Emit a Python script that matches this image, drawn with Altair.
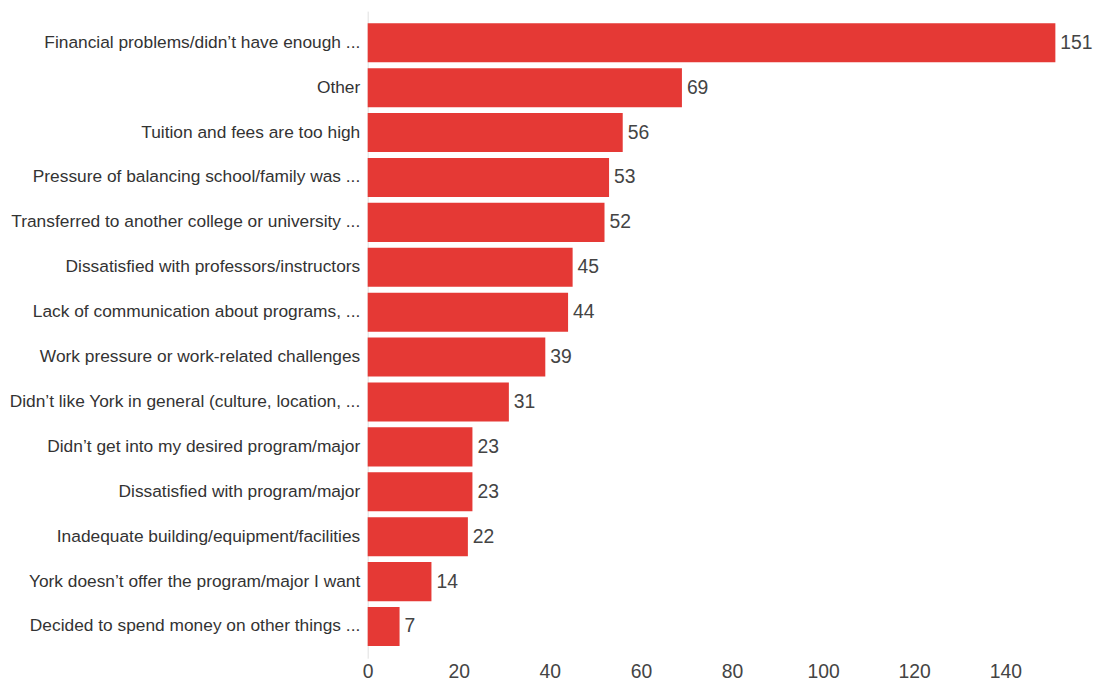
import altair as alt
import pandas as pd

categories = [
    "Financial problems/didn’t have enough ...",
    "Other",
    "Tuition and fees are too high",
    "Pressure of balancing school/family was ...",
    "Transferred to another college or university ...",
    "Dissatisfied with professors/instructors",
    "Lack of communication about programs, ...",
    "Work pressure or work-related challenges",
    "Didn’t like York in general (culture, location, ...",
    "Didn’t get into my desired program/major",
    "Dissatisfied with program/major",
    "Inadequate building/equipment/facilities",
    "York doesn’t offer the program/major I want",
    "Decided to spend money on other things ...",
]
counts = [151, 69, 56, 53, 52, 45, 44, 39, 31, 23, 23, 22, 14, 7]
x_ticks = [0, 20, 40, 60, 80, 100, 120, 140]

df = pd.DataFrame({"reason": categories, "count": counts})

FONT = "Liberation Sans"

y_enc = alt.Y(
    "reason:N",
    sort=categories,
    title=None,
    scale=alt.Scale(paddingInner=0.13, paddingOuter=0.27),
    axis=alt.Axis(
        ticks=False,
        labelPadding=8,
        labelLimit=400,
        labelFontSize=17.5,
        labelFont=FONT,
        labelColor="#333333",
        domainColor="#e0e0e0",
        domainWidth=1,
        grid=False,
    ),
)
x_enc = alt.X(
    "count:Q",
    title=None,
    scale=alt.Scale(domain=[0, 151], nice=False, zero=True),
    axis=alt.Axis(
        values=x_ticks,
        ticks=False,
        domain=False,
        grid=False,
        labelPadding=5,
        labelFontSize=19.5,
        labelFont=FONT,
        labelColor="#444444",
        labelFlush=False,
    ),
)

bars = alt.Chart(df).mark_bar(color="#e53935").encode(x=x_enc, y=y_enc)

text = alt.Chart(df).mark_text(
    align="left", baseline="middle", dx=5, fontSize=19.5, font=FONT, color="#444444"
).encode(
    x=x_enc,
    y=y_enc,
    text="count:Q",
)

chart = (
    alt.layer(bars, text)
    .properties(
        width=694,
        height=653,
        autosize=alt.AutoSizeParams(type="none"),
        padding={"left": 363, "top": 0, "right": 40, "bottom": 30},
        view=alt.ViewBackground(stroke="transparent", strokeWidth=0),
    )
    .configure_view(stroke="transparent", strokeWidth=0)
    .configure_axis(grid=False)
    .configure(background="white")
)

chart.save("out.html", embed_options={"renderer": "svg", "actions": False})
